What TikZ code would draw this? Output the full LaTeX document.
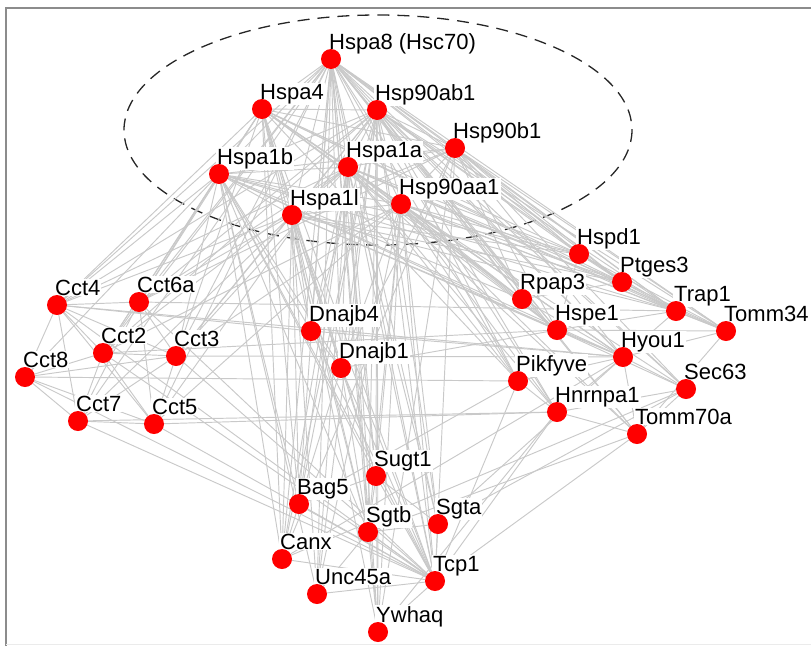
\documentclass[tikz,border=0pt]{standalone}
\usepackage{fontspec}
\setmainfont{Liberation Sans}
\usepackage{tikz}
\usetikzlibrary{shapes,arrows,positioning}

\pgfdeclarelayer{edges}
\pgfdeclarelayer{names}
\pgfsetlayers{edges,names,main}

\begin{document}
\begin{tikzpicture}[
    x=1pt, y=-1pt,
    protein/.style={circle, fill=red, minimum size=20pt, inner sep=0pt},
    genename/.style={fill=white, inner sep=1pt, anchor=base west, font=\fontsize{22}{26}\selectfont},
    link/.style={draw=black!21, line width=0.95pt},
    hubring/.style={draw=black!85, line width=1.3pt, dash pattern=on 12pt off 8pt}
]
    \useasboundingbox (0,0) rectangle (811,646);
    \draw[black!45, line width=1.5pt] (6,646) -- (6,8) -- (811,8);
    \draw[black!8, line width=1pt] (6,644) -- (811,644);

    % proteins
    \foreach \n/\x/\y/\t in {
        hspa8/331/59/{Hspa8 (Hsc70)}, hspa4/262/109/Hspa4, hsp90ab1/377/110/Hsp90ab1,
        hsp90b1/455/148/Hsp90b1, hspa1a/348/167/Hspa1a, hspa1b/219/174/Hspa1b,
        hsp90aa1/401/204/Hsp90aa1, hspa1l/292/215/Hspa1l,
        hspd1/579/254/Hspd1, ptges3/622/282/Ptges3, rpap3/522/299/Rpap3,
        trap1/676/311/Trap1, tomm34/726/331/Tomm34, hspe1/557/330/Hspe1,
        hyou1/623/357/Hyou1, pikfyve/518/381/Pikfyve, sec63/686/389/Sec63,
        hnrnpa1/557/412/Hnrnpa1, tomm70a/637/434/Tomm70a,
        cct4/57/305/Cct4, cct6a/139/302/Cct6a, dnajb4/311/331/Dnajb4,
        cct2/103/353/Cct2, cct3/176/356/Cct3, dnajb1/341/368/Dnajb1,
        cct8/25/377/Cct8, cct7/78/421/Cct7, cct5/154/424/Cct5,
        sugt1/376/476/Sugt1, bag5/299/504/Bag5, sgta/438/524/Sgta,
        sgtb/368/532/Sgtb, canx/282/559/Canx, tcp1/435/581/Tcp1,
        unc45a/317/594/Unc45a, ywhaq/378/632/Ywhaq}
    {
        \node[protein] (\n) at (\x,\y) {};
        \begin{pgfonlayer}{names}
            \node[genename] (\n-name) at (\x-3,\y-10) {\t};
        \end{pgfonlayer}
    }

    \begin{pgfonlayer}{edges}
    % Hsp70/Hsp90 group
    \draw[hubring] (378,130) ellipse [x radius=254, y radius=115];

    % interactions
    \foreach \src/\dsts in {
        hspa8/{hspa4,hsp90ab1,hsp90b1,hspa1a,hspa1b,hsp90aa1,hspa1l,hspd1,ptges3,rpap3,trap1,tomm34,hspe1,hyou1,pikfyve,sec63,hnrnpa1,tomm70a,cct4,cct6a,dnajb4,cct2,cct3,dnajb1,cct7,cct5,sugt1,bag5,sgta,sgtb,canx,tcp1,unc45a,ywhaq},
        hspa4/{hsp90ab1,hsp90b1,hspa1a,hspa1b,hsp90aa1,hspa1l,hspd1,ptges3,rpap3,trap1,hspe1,hyou1,pikfyve,cct4,cct6a,cct2,cct3,dnajb4,dnajb1,sugt1,bag5,sgtb,canx,tcp1},
        hsp90ab1/{hsp90b1,hspa1a,hspa1b,hsp90aa1,hspa1l,hspd1,ptges3,rpap3,trap1,tomm34,tomm70a,hspe1,hyou1,sec63,pikfyve,hnrnpa1,cct4,cct6a,cct2,cct3,cct5,dnajb4,dnajb1,sugt1,sgta,sgtb,tcp1,unc45a,ywhaq,canx,bag5},
        hsp90b1/{hspa1a,hspa1b,hsp90aa1,hspa1l,hspd1,ptges3,trap1,tomm34,hyou1,sec63,rpap3,hspe1,canx,dnajb1,tcp1,cct6a,ywhaq},
        hspa1a/{hspa1b,hsp90aa1,hspa1l,hspd1,ptges3,rpap3,trap1,tomm34,tomm70a,hspe1,hyou1,pikfyve,hnrnpa1,cct4,cct2,cct3,cct6a,dnajb4,dnajb1,sugt1,bag5,sgta,sgtb,canx,tcp1,unc45a,ywhaq},
        hspa1b/{hsp90aa1,hspa1l,hspd1,ptges3,rpap3,trap1,hspe1,hyou1,cct4,cct6a,cct2,cct8,cct3,dnajb4,dnajb1,bag5,sgtb,canx,tcp1,unc45a,sugt1},
        hsp90aa1/{hspa1l,hspd1,ptges3,rpap3,trap1,tomm34,tomm70a,hspe1,hyou1,sec63,pikfyve,hnrnpa1,cct2,cct3,cct5,dnajb1,sugt1,sgta,sgtb,tcp1,ywhaq,unc45a},
        hspa1l/{hspd1,ptges3,trap1,hspe1,hyou1,cct4,cct6a,cct3,cct7,dnajb4,dnajb1,bag5,sgtb,canx,unc45a,ywhaq,tcp1,sugt1},
        cct4/{cct8,cct2,cct3,cct7,cct5,cct6a,tcp1,hyou1,dnajb4},
        cct8/{cct7,cct2,cct5,cct3,tcp1,pikfyve},
        cct7/{cct5,cct2,cct3,cct6a,tcp1,hnrnpa1},
        cct2/{cct3,cct5,cct6a,tcp1,hspe1},
        cct3/{cct5,cct6a,tcp1,hyou1},
        cct5/{cct6a,tcp1,hnrnpa1},
        cct6a/{tcp1,trap1},
        hspd1/{hspe1,trap1,ptges3,tomm34},
        ptges3/{trap1,tomm34,rpap3},
        trap1/{tomm34,hyou1,hspe1},
        tomm34/{hyou1,hspe1,tomm70a},
        rpap3/{hspe1,hyou1},
        hspe1/{hyou1,sec63,dnajb1},
        hyou1/{sec63,pikfyve,hnrnpa1,tomm70a,dnajb4,canx,sgta},
        sec63/{tomm70a,hnrnpa1,sgta,canx},
        hnrnpa1/{tomm70a,pikfyve,tcp1,ywhaq},
        tomm70a/{tcp1,sgtb},
        sugt1/{sgtb,tcp1,bag5,sgta,ywhaq},
        sgtb/{sgta,tcp1,ywhaq,unc45a,dnajb1},
        sgta/{tcp1},
        bag5/{canx,tcp1,dnajb1,pikfyve},
        canx/{tcp1},
        unc45a/{tcp1},
        ywhaq/{tcp1},
        dnajb4/{dnajb1,tcp1},
        dnajb1/{tcp1},
        pikfyve/{tcp1}}
        \foreach \dst in \dsts
            \draw[link] (\src) -- (\dst);
    \end{pgfonlayer}
\end{tikzpicture}
\end{document}
